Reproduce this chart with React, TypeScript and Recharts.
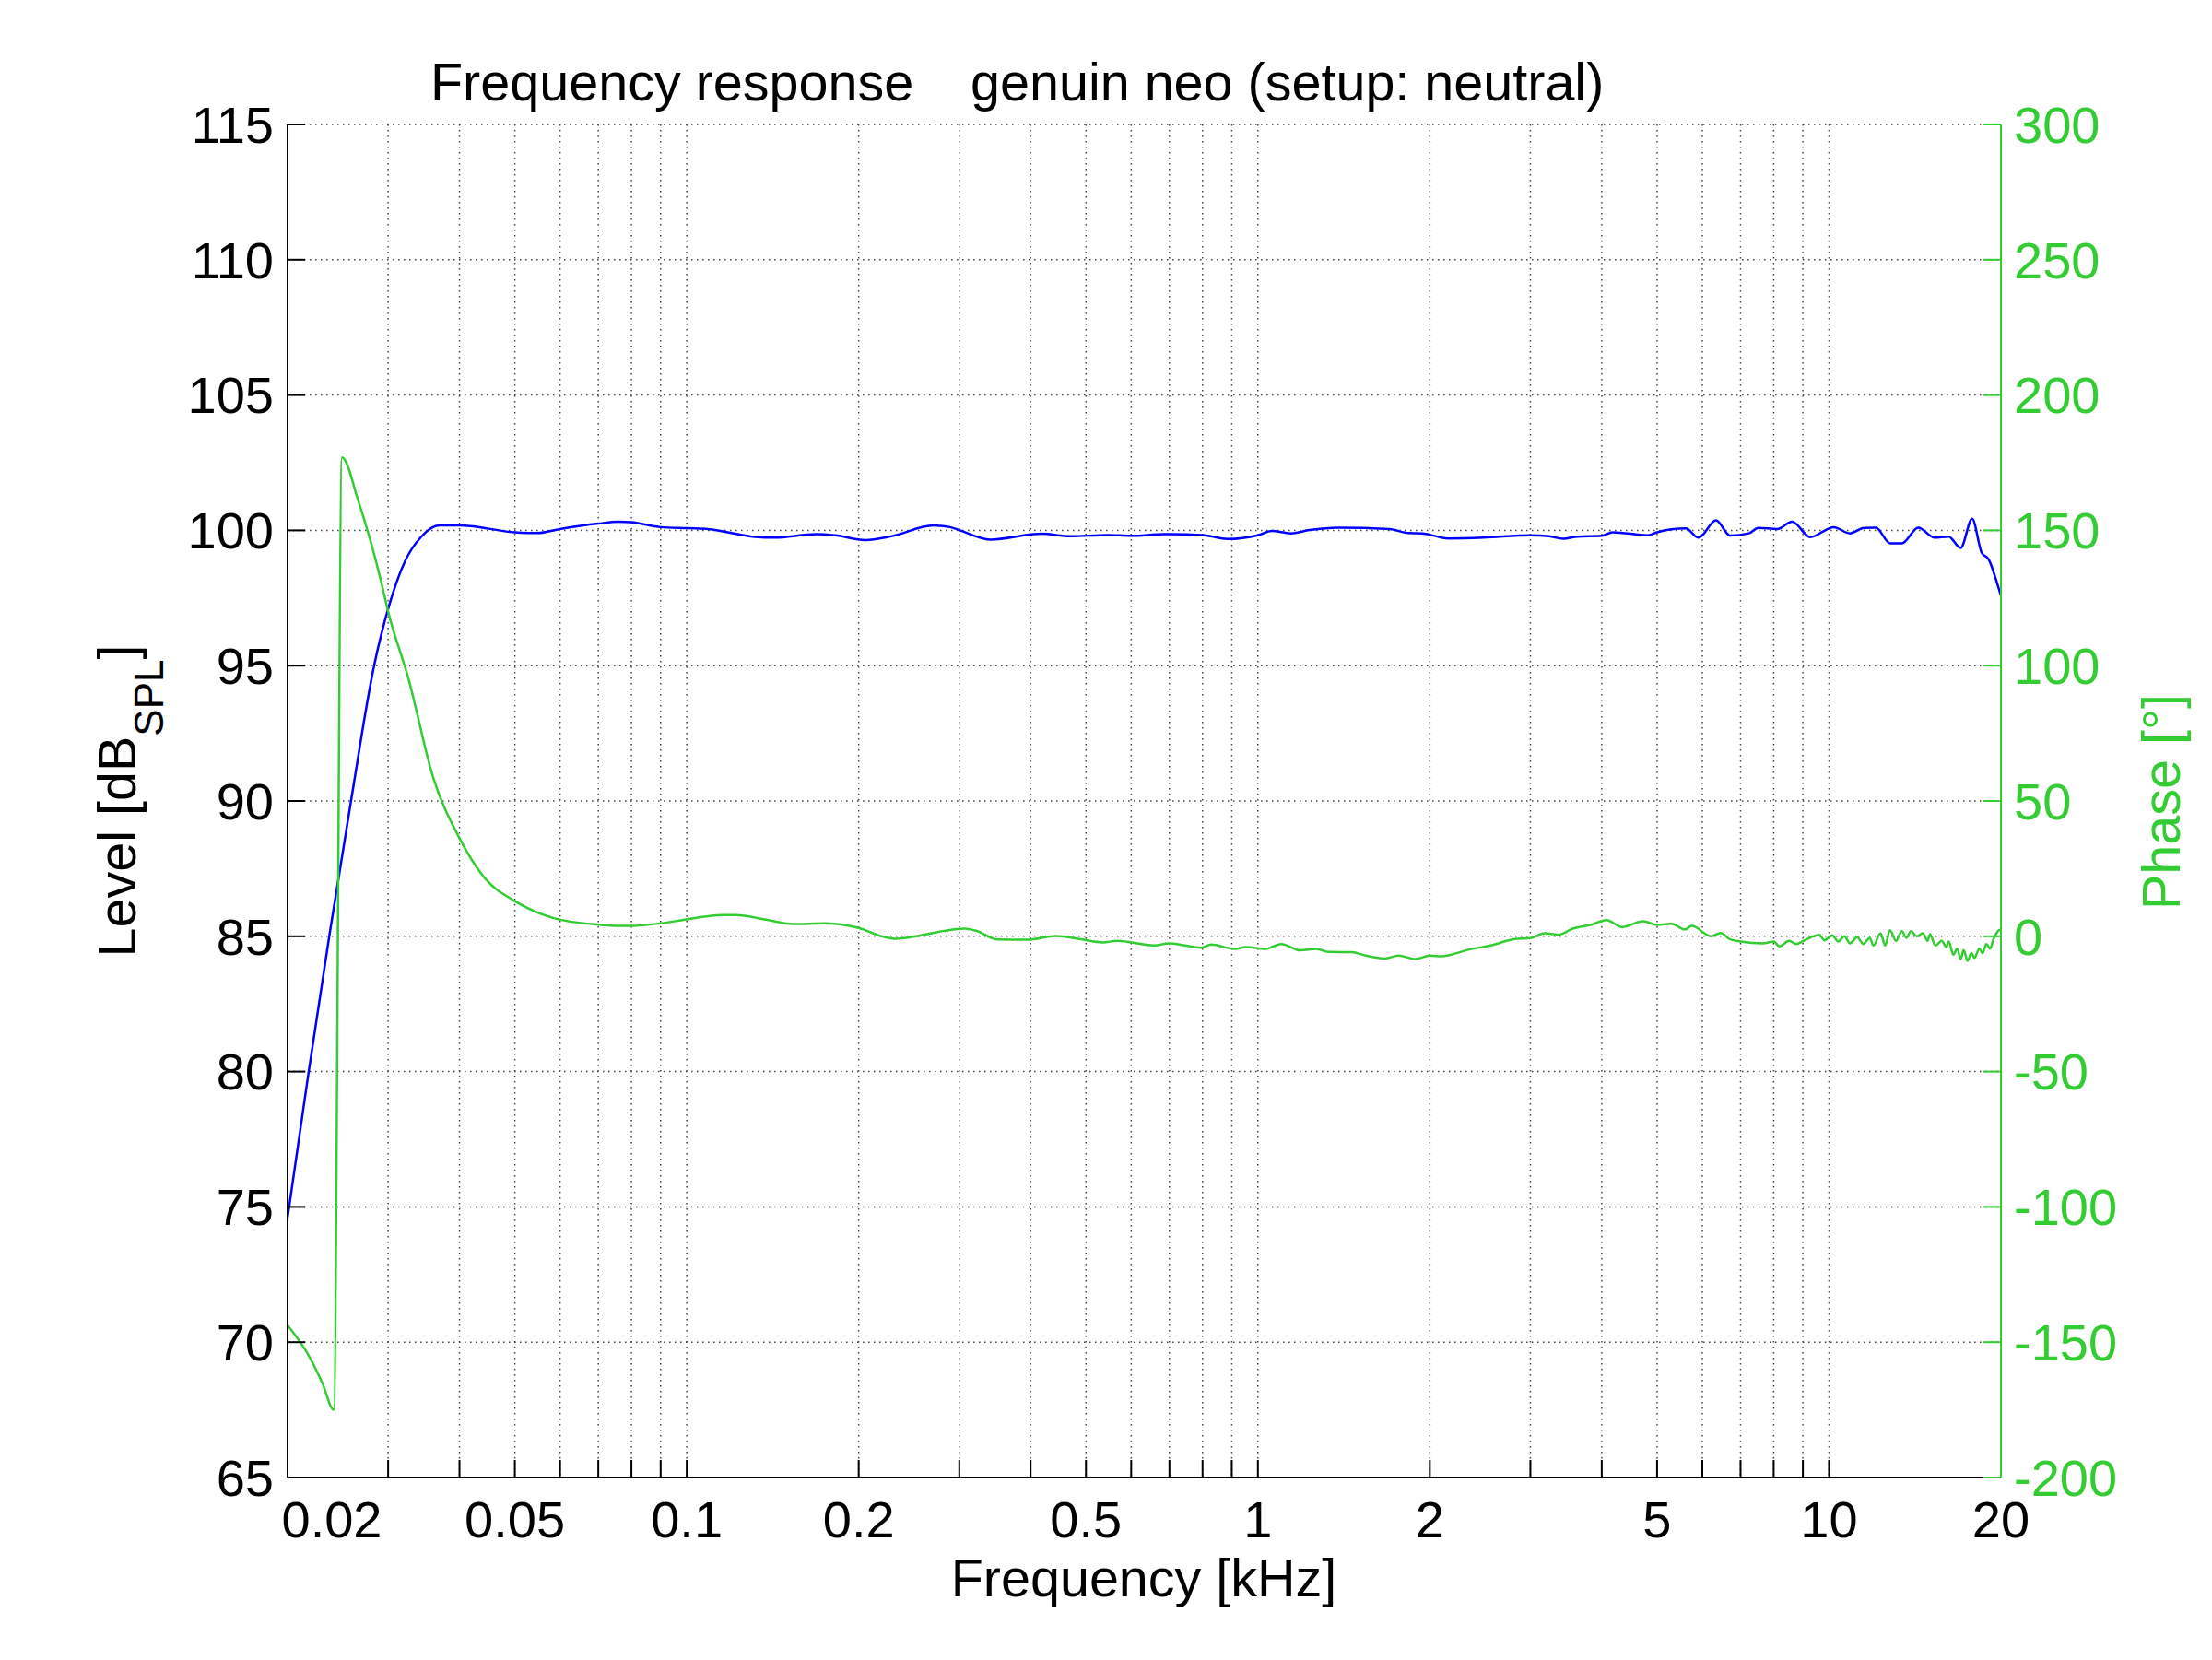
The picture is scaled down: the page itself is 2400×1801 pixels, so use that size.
import React from 'react';
import { LineChart, Line, XAxis, YAxis, CartesianGrid } from 'recharts';

const FONT = '"Liberation Sans", Arial, Helvetica, sans-serif';
const GREEN = '#33cc33';
const BLUE = '#0000ff';

// Level curve (frequency in kHz, level in dB SPL)
const levelFreq = [
  0.02, 0.02178, 0.02366, 0.02583, 0.02835, 0.03, 0.03218, 0.03424, 0.03689,
  0.04, 0.05, 0.0548, 0.06, 0.07, 0.076, 0.08, 0.09, 0.1, 0.1089,
  0.1317, 0.1421, 0.1685, 0.1818, 0.2054, 0.2281, 0.2707, 0.2891, 0.3, 0.3396,
  0.4184, 0.4688, 0.5456, 0.6, 0.6849, 0.8, 0.8845, 1.0, 1.058, 1.141,
  1.231, 1.38, 1.7, 1.834, 1.94, 2.153, 2.482, 3.0, 3.237, 3.425,
  3.625, 4.0, 4.18, 4.82, 5.0, 5.61, 5.91, 6.34, 6.71, 7.24,
  7.52, 8.12, 8.62, 9.27, 10.19, 10.88, 11.52, 12.08, 12.79, 13.41,
  14.33, 15.31, 16.2, 17.0, 17.81, 18.5, 19.03, 19.9, 20,
];
const levelDb = [
  74.6, 80, 85, 90, 95, 97.1, 98.9, 99.75, 100.18,
  100.18, 99.93, 99.9, 100.05, 100.25, 100.32, 100.3, 100.12, 100.08, 100.05,
  99.76, 99.73, 99.86, 99.82, 99.64, 99.78, 100.18, 100.12, 100.01, 99.66,
  99.875, 99.78, 99.83, 99.8, 99.86, 99.83, 99.68, 99.82, 99.98, 99.89,
  100.01, 100.1, 100.05, 99.9, 99.89, 99.7, 99.73, 99.82, 99.78, 99.69,
  99.77, 99.8, 99.93, 99.82, 99.93, 100.07, 99.73, 100.37, 99.81, 99.89,
  100.09, 100.05, 100.32, 99.75, 100.12, 99.89, 100.09, 100.1, 99.52, 99.52,
  100.1, 99.73, 99.77, 99.35, 100.43, 99.18, 98.93, 97.74, 97.6,
];

// Phase curve (frequency in kHz, phase in degrees)
const phaseFreq = [
  0.02, 0.02192, 0.023, 0.0241, 0.02491, 0.02657, 0.02915, 0.03, 0.03258, 0.03597,
  0.04, 0.0444, 0.05, 0.0583, 0.07, 0.076, 0.08, 0.09, 0.1, 0.1152,
  0.122, 0.1368, 0.1533, 0.175, 0.1888, 0.2, 0.2196, 0.2326, 0.2509, 0.2811,
  0.3062, 0.3209, 0.3496, 0.3954, 0.4429, 0.487, 0.5355, 0.5667, 0.6594, 0.698,
  0.7965, 0.828, 0.9099, 0.954, 1.03, 1.099, 1.186, 1.267, 1.328, 1.46,
  1.545, 1.667, 1.764, 1.886, 2.0, 2.092, 2.345, 2.578, 2.835, 3.0,
  3.176, 3.36, 3.558, 3.837, 4.077, 4.341, 4.727, 5.0, 5.3, 5.59,
  5.75, 6.22, 6.46, 6.71, 7.0, 7.66, 8.0, 8.19, 8.51, 8.76,
  9.09, 9.62, 9.81, 10.13, 10.38, 10.64, 10.88, 11.2, 11.48, 11.78,
  11.96, 12.31, 12.54, 12.79, 13.1, 13.41, 13.66, 13.92, 14.24, 14.6,
  14.88, 15.02, 15.36, 15.75, 16.05, 16.2, 16.51, 16.77, 17.0, 17.21,
  17.48, 17.75, 17.98, 18.33, 18.57, 18.86, 19.15, 19.4, 19.77, 20,
];
const phaseDeg = [
  -143.75, -156, -165, -175, 177, 161.25, 131.25, 120, 95, 58.75,
  36.25, 21.25, 13, 6.8, 4.3, 3.86, 3.86, 4.77, 6.24, 7.83,
  7.83, 6.24, 4.54, 4.77, 4.2, 3.06, 0, -0.9, -0.1, 1.93,
  2.84, 2.04, -1.14, -1.25, 0.11, -1.0, -2.27, -1.7, -3.4, -2.6,
  -4.2, -3.06, -4.65, -3.97, -4.65, -2.84, -5.2, -4.65, -5.8, -5.9,
  -7.15, -8.2, -7.15, -8.4, -7.15, -7.4, -4.88, -3.2, -0.9, -0.7,
  1.1, 0.57, 2.84, 4.3, 6.0, 3.4, 5.56, 4.2, 4.65, 2.5,
  3.86, 0, 1.25, -1.14, -1.93, -2.6, -1.93, -3.75, -1.7, -2.84,
  -1.36, 0.57, -1.48, 0.34, -1.93, 0, -2.6, -0.34, -2.84, -0.57,
  -3.41, 1.14, -3.41, 2.27, -1.7, 1.93, -0.57, 1.93, 0, 1.14,
  -1.7, 0.8, -3.41, -1.7, -3.97, -1.93, -6.81, -4.54, -8.51, -5.11,
  -9.08, -6.24, -7.95, -4.54, -6.24, -2.84, -4.54, -1.14, 1.93, 2.5,
];

const xTickValues = [
  0.02, 0.03, 0.04, 0.05, 0.06, 0.07, 0.08, 0.09,
  0.1, 0.2, 0.3, 0.4, 0.5, 0.6, 0.7, 0.8, 0.9,
  1, 2, 3, 4, 5, 6, 7, 8, 9, 10, 20,
];
const xLabelValues = [0.02, 0.05, 0.1, 0.2, 0.5, 1, 2, 5, 10, 20];
const xLabelTexts = ['0.02', '0.05', '0.1', '0.2', '0.5', '1', '2', '5', '10', '20'];
const levelTicks = [65, 70, 75, 80, 85, 90, 95, 100, 105, 110, 115];
const phaseTicks = [-200, -150, -100, -50, 0, 50, 100, 150, 200, 250, 300];

const titleLeft = 'Frequency response';
const titleRight = 'genuin neo (setup: neutral)';
const xLabel = 'Frequency [kHz]';
const phaseLabel = 'Phase [°]';

const levelData = levelFreq.map((f, i) => ({ f, v: levelDb[i] }));
const phaseData = phaseFreq.map((f, i) => ({ f, v: phaseDeg[i] }));

const XTick = (props: any) => {
  const { x, y, payload } = props;
  const idx = xLabelValues.indexOf(payload.value);
  if (idx < 0) return <g />;
  const shift = idx === 0 ? 48 : 0;
  return (
    <text
      x={x + shift}
      y={y}
      dy="0.71em"
      textAnchor="middle"
      fontSize={56}
      fontFamily={FONT}
      fill="#000"
    >
      {xLabelTexts[idx]}
    </text>
  );
};

export default function App() {
  return (
    <div style={{ position: 'absolute', left: 0, top: 0, width: 2400, height: 1801, background: '#fff' }}>
      <LineChart width={2400} height={1801} margin={{ top: 135, right: 0, bottom: 0, left: 0 }}>
        <CartesianGrid
          xAxisId="bottom"
          yAxisId="L"
          stroke="#444"
          strokeWidth={1.5}
          strokeDasharray="1.5 4.5"
        />
        <XAxis
          xAxisId="bottom"
          dataKey="f"
          type="number"
          scale="log"
          domain={[0.02, 20]}
          allowDataOverflow
          ticks={xTickValues}
          interval={0}
          height={198}
          tickSize={-19}
          tickMargin={44}
          tick={<XTick />}
          axisLine={{ stroke: '#000', strokeWidth: 2 }}
          tickLine={{ stroke: '#000', strokeWidth: 2 }}
        />
        <XAxis
          xAxisId="top"
          orientation="top"
          dataKey="f"
          type="number"
          scale="log"
          domain={[0.02, 20]}
          allowDataOverflow
          ticks={xTickValues}
          interval={0}
          height={0}
          tickSize={-19}
          tick={false}
          axisLine={{ stroke: '#000', strokeWidth: 2 }}
          tickLine={{ stroke: '#000', strokeWidth: 2 }}
        />
        <YAxis
          yAxisId="L"
          orientation="left"
          type="number"
          domain={[65, 115]}
          allowDataOverflow
          ticks={levelTicks}
          interval={0}
          width={312}
          tickSize={-19}
          tickMargin={34}
          tick={{ fill: '#000', fontSize: 56, fontFamily: FONT }}
          axisLine={{ stroke: '#000', strokeWidth: 2 }}
          tickLine={{ stroke: '#000', strokeWidth: 2 }}
        />
        <YAxis
          yAxisId="R"
          orientation="right"
          type="number"
          domain={[-200, 300]}
          allowDataOverflow
          ticks={phaseTicks}
          interval={0}
          width={229}
          tickSize={-19}
          tickMargin={33}
          tick={{ fill: GREEN, fontSize: 56, fontFamily: FONT }}
          axisLine={{ stroke: GREEN, strokeWidth: 2 }}
          tickLine={{ stroke: GREEN, strokeWidth: 2 }}
        />
        <Line
          xAxisId="bottom"
          yAxisId="L"
          data={levelData}
          dataKey="v"
          type="monotone"
          stroke={BLUE}
          strokeWidth={2.5}
          dot={false}
          isAnimationActive={false}
        />
        <Line
          xAxisId="bottom"
          yAxisId="R"
          data={phaseData}
          dataKey="v"
          type="monotone"
          stroke={GREEN}
          strokeWidth={2.5}
          dot={false}
          isAnimationActive={false}
        />
      </LineChart>
      <svg
        width={2400}
        height={1801}
        style={{ position: 'absolute', left: 0, top: 0, pointerEvents: 'none' }}
      >
        <g fontFamily={FONT} fontSize={57.5}>
          <text x={467} y={109} fill="#000">{titleLeft}</text>
          <text x={1053} y={109} fill="#000">{titleRight}</text>
          <text x={1241} y={1732} textAnchor="middle" fill="#000">{xLabel}</text>
          <text transform="translate(147,869) rotate(-90)" textAnchor="middle" fill="#000">
            Level [dB
            <tspan dy={30} fontSize={44}>SPL</tspan>
            <tspan dy={-30}>]</tspan>
          </text>
          <text transform="translate(2365,870) rotate(-90)" textAnchor="middle" fill={GREEN}>
            {phaseLabel}
          </text>
        </g>
      </svg>
    </div>
  );
}
